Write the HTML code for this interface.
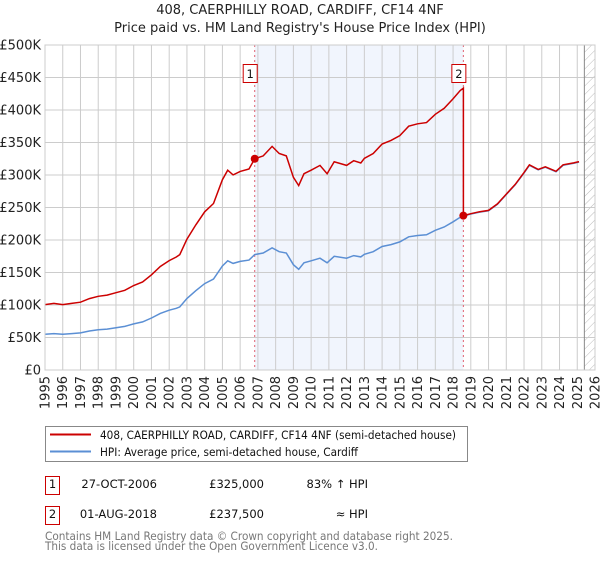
<!DOCTYPE html>
<html><head><meta charset="utf-8"><style>
body{margin:0;background:#fff;width:600px;height:560px;overflow:hidden;font-family:"DejaVu Sans","Liberation Sans",sans-serif;}
svg text{font-family:"DejaVu Sans","Liberation Sans",sans-serif;}
</style></head><body>
<svg id="chart" width="600" height="560">
<defs><pattern id="hatch" width="6" height="6" patternUnits="userSpaceOnUse" patternTransform="rotate(45)"><line x1="0" y1="0" x2="0" y2="6" stroke="#bbb" stroke-width="1"/></pattern></defs>
<text x="300" y="14" text-anchor="middle" font-size="13" fill="#222">408, CAERPHILLY ROAD, CARDIFF, CF14 4NF</text>
<text x="300" y="32" text-anchor="middle" font-size="13" fill="#222">Price paid vs. HM Land Registry's House Price Index (HPI)</text>
<g id="plot"></g>
<g>
<rect x="45.5" y="426.5" width="422" height="35" fill="#fff" stroke="#888"/>
<line x1="50" y1="434.5" x2="91" y2="434.5" stroke="#cc0000" stroke-width="2"/>
<text x="100" y="439" font-size="11.5" fill="#111" textLength="356" lengthAdjust="spacingAndGlyphs">408, CAERPHILLY ROAD, CARDIFF, CF14 4NF (semi-detached house)</text>
<line x1="50" y1="451.5" x2="91" y2="451.5" stroke="#5b8fd4" stroke-width="2"/>
<text x="100" y="456" font-size="11.5" fill="#111" textLength="258" lengthAdjust="spacingAndGlyphs">HPI: Average price, semi-detached house, Cardiff</text>
</g>
<g font-size="11.5" fill="#111">
<rect x="45.5" y="476.5" width="14" height="18" fill="#fff" stroke="#cc0000"/>
<text x="52.5" y="488" text-anchor="middle">1</text>
<text x="157" y="488" text-anchor="end">27-OCT-2006</text>
<text x="264" y="488" text-anchor="end">£325,000</text>
<text x="368" y="488" text-anchor="end">83% ↑ HPI</text>
<rect x="45.5" y="506.5" width="14" height="18" fill="#fff" stroke="#cc0000"/>
<text x="52.5" y="518" text-anchor="middle">2</text>
<text x="157" y="518" text-anchor="end">01-AUG-2018</text>
<text x="264" y="518" text-anchor="end">£237,500</text>
<text x="368" y="518" text-anchor="end">≈ HPI</text>
</g>
<text x="45" y="540" font-size="11.5" fill="#777" textLength="408" lengthAdjust="spacingAndGlyphs">Contains HM Land Registry data © Crown copyright and database right 2025.</text>
<text x="45" y="550" font-size="11.5" fill="#777" textLength="333" lengthAdjust="spacingAndGlyphs">This data is licensed under the Open Government Licence v3.0.</text>
</svg>
<script>
const hpiYears=[1995,1995.5,1996,1996.5,1997,1997.5,1998,1998.5,1999,1999.5,2000,2000.5,2001,2001.5,2002,2002.4,2002.6,2003,2003.5,2004,2004.5,2005,2005.3,2005.6,2006,2006.5,2006.82,2007.3,2007.8,2008.2,2008.6,2009.0,2009.3,2009.6,2010,2010.5,2010.9,2011.3,2012,2012.4,2012.8,2013,2013.5,2014,2014.5,2015,2015.5,2016,2016.5,2017,2017.5,2018,2018.4,2018.58,2019,2019.5,2020,2020.5,2021,2021.5,2022,2022.3,2022.8,2023.2,2023.8,2024.2,2024.8,2025.1];
const hpiValues=[55,56,55,56,57,60,62,63,65,67,71,74,80,87,92,95,97,110,122,133,140,160,168,164,167,169,177.6,180,188,182,180,162,155,165,168,172,165,175,172,176,174,178,182,190,193,197,205,207,208,215,220,228,235,237,240,243,245,255,270,285,303,315,308,312,305,315,318,320];
const sale1Year=2006.82, sale1Price=325;
const sale2Year=2018.58, sale2Price=237.5;
const yTicks=[0,50,100,150,200,250,300,350,400,450,500];
const yTickLabels=['£0','£50K','£100K','£150K','£200K','£250K','£300K','£350K','£400K','£450K','£500K'];
const xTicks=[1995,1996,1997,1998,1999,2000,2001,2002,2003,2004,2005,2006,2007,2008,2009,2010,2011,2012,2013,2014,2015,2016,2017,2018,2019,2020,2021,2022,2023,2024,2025,2026];

const L=45,R=595,T=45,B=370;
const xS=y=>L+(y-1995)/(2026-1995)*(R-L);
const yS=v=>B-v/500*(B-T);
const NS='http://www.w3.org/2000/svg';
const g=document.getElementById('plot');
function mk(tag,attrs,parent){const e=document.createElementNS(NS,tag);for(const k in attrs)e.setAttribute(k,attrs[k]);(parent||g).appendChild(e);return e;}
function hpiAt(y){for(let i=0;i<hpiYears.length-1;i++){if(y>=hpiYears[i]&&y<=hpiYears[i+1]){const t=(y-hpiYears[i])/(hpiYears[i+1]-hpiYears[i]);return hpiValues[i]+t*(hpiValues[i+1]-hpiValues[i]);}}return hpiValues[hpiValues.length-1];}

let e=mk('rect',{x:xS(sale1Year),y:T,width:xS(sale2Year)-xS(sale1Year),height:B-T,fill:'#eef3fd',opacity:0.8});


e=mk('rect',{x:xS(2025.4),y:T,width:R-xS(2025.4),height:B-T,fill:'url(#hatch)'});


yTicks.forEach((v,i)=>{
 let l=mk('line',{x1:L,x2:R,y1:yS(v),y2:yS(v),stroke:'#ccc','stroke-width':1});
 
 
 let t=mk('text',{x:L-4,y:yS(v)+4.5,'text-anchor':'end','font-size':13,fill:'#222'});
 t.textContent=yTickLabels[i];
 
 
});
xTicks.forEach(yr=>{
 let l=mk('line',{x1:xS(yr),x2:xS(yr),y1:T,y2:B,stroke:'#ccc','stroke-width':1});
 
 
 let t=mk('text',{x:0,y:0,'text-anchor':'end','font-size':13,fill:'#222',transform:`translate(${xS(yr)+4.5},${B+6}) rotate(-90)`});
 t.textContent=yr;
 
 
});
e=mk('line',{x1:xS(2025.4),x2:xS(2025.4),y1:T,y2:B,stroke:'#888','stroke-width':1});


[sale1Year,sale2Year].forEach(yr=>{
 let l=mk('line',{x1:xS(yr),x2:xS(yr),y1:T,y2:B,stroke:'#e06070','stroke-width':1,'stroke-dasharray':'2,3'});
 
 
});
let hp=hpiYears.map((y,i)=>`${xS(y).toFixed(1)},${yS(hpiValues[i]).toFixed(1)}`).join(' ');
e=mk('polyline',{points:hp,fill:'none',stroke:'#5b8fd4','stroke-width':1.5});


const r1=sale1Price/hpiAt(sale1Year), r2=sale2Price/hpiAt(sale2Year);
let pts=[];
hpiYears.forEach((y,i)=>{if(y<sale2Year)pts.push([y,hpiValues[i]*r1]);});
pts.push([sale2Year,hpiAt(sale2Year)*r1]);
pts.push([sale2Year,sale2Price]);
hpiYears.forEach((y,i)=>{if(y>sale2Year)pts.push([y,hpiValues[i]*r2]);});
e=mk('polyline',{points:pts.map(p=>`${xS(p[0]).toFixed(1)},${yS(p[1]).toFixed(1)}`).join(' '),fill:'none',stroke:'#cc0000','stroke-width':1.5});


[[sale1Year,sale1Price,'1'],[sale2Year,sale2Price,'2']].forEach(s=>{
 let c=mk('circle',{cx:xS(s[0]),cy:yS(s[1]),r:4,fill:'#cc0000'});
 
 
 let bx=mk('rect',{x:xS(s[0])-11.5,y:64.5,width:14,height:18,fill:'#fff',stroke:'#cc0000'});
 
 
 let t=mk('text',{x:xS(s[0])-4.5,y:78,'text-anchor':'middle','font-size':11.5,fill:'#111'});
 t.textContent=s[2];
 
 
});
e=mk('rect',{x:L,y:T,width:R-L,height:B-T,fill:'none',stroke:'#ccc'});


</script>
</body></html>
